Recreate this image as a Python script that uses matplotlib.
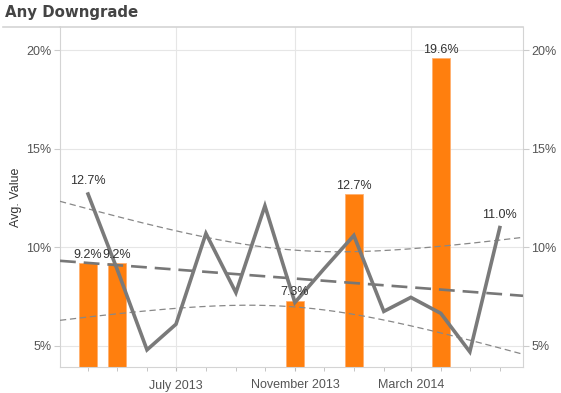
import numpy as np
import pandas as pd
import matplotlib
matplotlib.use('Agg')
import matplotlib.pyplot as plt
import matplotlib.dates as mdates
from matplotlib.ticker import FuncFormatter

plt.rcParams['font.family'] = ['Liberation Sans', 'DejaVu Sans']

# Line series (monthly averages, %)
line_months = pd.date_range('2013-04-01', '2014-06-01', freq='MS')
line_values = [12.7, 8.9, 4.8, 6.1, 10.7, 7.7, 12.1, 7.2, 8.9, 10.6, 6.75, 7.46, 6.65, 4.7, 11.0]

# Bar series (%)
bar_months = pd.to_datetime(['2013-04-01', '2013-05-01', '2013-11-01', '2014-01-01', '2014-04-01'])
bar_values = [9.2, 9.2, 7.3, 12.7, 19.6]

y_ticks = [5, 10, 15, 20]
x_labels = ['July 2013', 'November 2013', 'March 2014']
x_label_dates = pd.to_datetime(['2013-07-01', '2013-11-01', '2014-03-01'])

orange = '#ff7f0e'
gray_line = '#7a7a7a'
text_col = '#555555'

fig = plt.figure(figsize=(5.61, 3.93), dpi=100)
ax = fig.add_axes([60 / 561, 1 - 367 / 393, 463 / 561, 340 / 393])

ax.set_xlim(pd.Timestamp('2013-03-03'), pd.Timestamp('2014-06-25'))
ax.set_ylim(3.93, 21.17)

# bars
ax.bar(bar_months, bar_values, width=19, color=orange, edgecolor='#ffb070',
       linewidth=0.6, zorder=2)
for d, v in zip(bar_months, bar_values):
    ax.annotate(f'{v:.1f}%', (d, v), xytext=(0, 1.5), textcoords='offset points',
                ha='center', va='bottom', fontsize=9, color='#333333', zorder=6)

# trend line with 95% confidence band, fitted on the line series
xd = mdates.date2num(line_months)
yv = np.array(line_values)
slope, intercept = np.polyfit(xd, yv, 1)
n = len(xd)
resid = yv - (slope * xd + intercept)
s = np.sqrt(np.sum(resid ** 2) / (n - 2))
xs = np.linspace(*ax.get_xlim(), 200)
fit = slope * xs + intercept
se = s * np.sqrt(1 / n + (xs - xd.mean()) ** 2 / np.sum((xd - xd.mean()) ** 2))
t = 2.160
ax.plot(xs, fit, color='#777777', lw=1.9, ls=(0, (6, 3)), zorder=3)
ax.plot(xs, fit + t * se, color='#888888', lw=0.9, ls=(0, (5, 3)), zorder=3)
ax.plot(xs, fit - t * se, color='#888888', lw=0.9, ls=(0, (5, 3)), zorder=3)

# line series
ax.plot(line_months, line_values, color=gray_line, lw=2.6, zorder=4,
        solid_joinstyle='miter')
for i in (0, len(line_values) - 1):
    ax.annotate(f'{line_values[i]:.1f}%', (line_months[i], line_values[i]),
                xytext=(0, 5), textcoords='offset points', ha='center',
                va='bottom', fontsize=9, color='#333333', zorder=6)

# axes styling
pct = FuncFormatter(lambda v, p: f'{v:.0f}%')
ax.set_yticks(y_ticks)
ax.yaxis.set_major_formatter(pct)
ax.grid(axis='y', color='#e6e6e6', lw=0.8, zorder=0)
for d in x_label_dates:
    ax.axvline(d, color='#e6e6e6', lw=0.8, zorder=0)
ax.set_xticks(x_label_dates)
ax.set_xticklabels(x_labels)
ax.set_xticks(line_months, minor=True)
ax.tick_params(axis='x', which='both', length=3, color='#bbbbbb',
               labelsize=9, labelcolor=text_col, pad=6)
ax.tick_params(axis='y', length=4, color='#cccccc', labelsize=9,
               labelcolor=text_col, pad=2)
for sp in ('left', 'bottom', 'top', 'right'):
    ax.spines[sp].set_color('#d4d4d4')
ax.spines['top'].set_linewidth(1.2)
ax.set_ylabel('Avg. Value', fontsize=9, color='#333333', labelpad=3)

ax2 = ax.twinx()
ax2.set_ylim(ax.get_ylim())
ax2.set_yticks(y_ticks)
ax2.yaxis.set_major_formatter(pct)
ax2.tick_params(axis='y', length=4, color='#cccccc', labelsize=9,
                labelcolor=text_col, pad=2)
for sp in ax2.spines.values():
    sp.set_visible(False)

fig.text(5 / 561, 1 - 13 / 393, 'Any Downgrade', fontsize=10.8, weight='bold',
         color='#444444', va='center', ha='left', family='DejaVu Sans')
fig.add_artist(plt.Line2D([3 / 561, 60 / 561], [1 - 27 / 393] * 2,
                          color='#d4d4d4', lw=1.2))

fig.savefig('out.png', dpi=100)
